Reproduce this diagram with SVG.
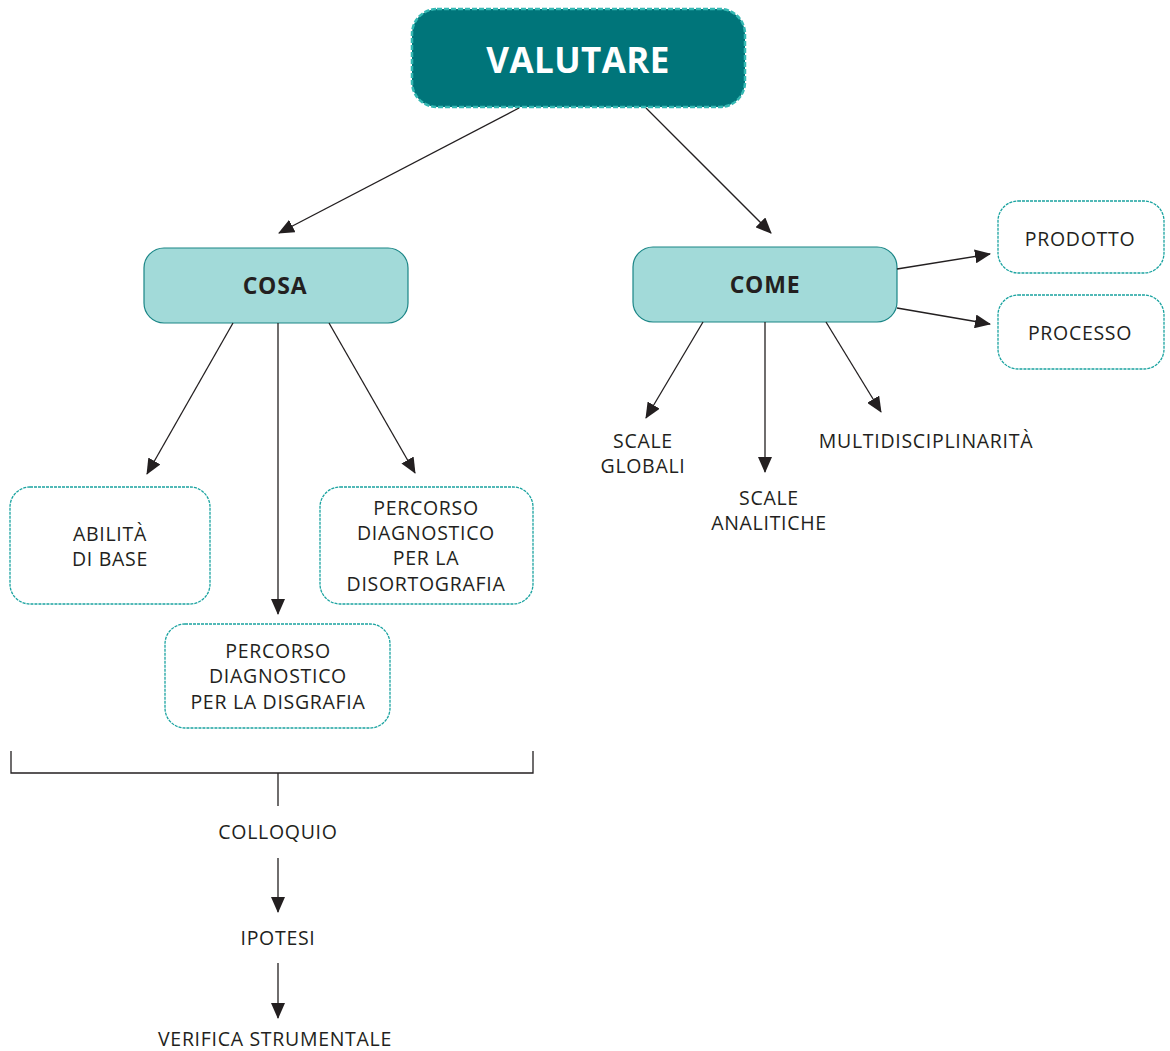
<svg xmlns="http://www.w3.org/2000/svg" width="1170" height="1051" viewBox="0 0 1170 1051">
<defs>
<marker id="ah" markerUnits="userSpaceOnUse" markerWidth="16" markerHeight="14" viewBox="0 0 16 14" refX="15" refY="7" orient="auto">
<path d="M0,0 L16,7 L0,14 Z" fill="#231f20"/>
</marker>
</defs>
<style>
text{font-family:"Open Sans","Noto Sans","Liberation Sans",sans-serif;fill:#231f20;text-anchor:middle;font-size:19.5px;letter-spacing:0.7px}
.b{font-weight:bold;font-size:23px;letter-spacing:0.8px}
.main{fill:#ffffff;font-weight:bold;font-size:35px;letter-spacing:0.4px}
.dash{fill:#ffffff;stroke:#1aa3a0;stroke-width:1.3;stroke-dasharray:3 1}
.mid{fill:#a2dad9;stroke:#1a8586;stroke-width:1.2}
.c line,.c path{stroke:#231f20;stroke-width:1.3;fill:none}
.c .a{marker-end:url(#ah)}
</style>
<g id="valutare">
<rect x="412" y="9" width="333" height="98" rx="25" fill="#00757a" stroke="#35b8b3" stroke-width="2.5" stroke-dasharray="5 2"/>
<text class="main" x="578" y="73">VALUTARE</text>
</g>
<g id="cosa">
<rect class="mid" x="144" y="248" width="264" height="75" rx="20"/>
<text class="b" x="275" y="294">COSA</text>
</g>
<g id="come">
<rect class="mid" x="633" y="247" width="264" height="75" rx="20"/>
<text class="b" x="765" y="293">COME</text>
</g>
<g id="prodotto">
<rect class="dash" x="998" y="201" width="166" height="72" rx="20"/>
<text x="1080" y="246">PRODOTTO</text>
</g>
<g id="processo">
<rect class="dash" x="998" y="295" width="166" height="74" rx="20"/>
<text x="1080" y="340">PROCESSO</text>
</g>
<g id="abilita">
<rect class="dash" x="10" y="487" width="200" height="117" rx="20"/>
<text x="110" y="541">ABILITÀ<tspan x="110" dy="25">DI BASE</tspan></text>
</g>
<g id="disortografia">
<rect class="dash" x="320" y="487" width="213" height="117" rx="20"/>
<text x="426" y="515">PERCORSO<tspan x="426" dy="25">DIAGNOSTICO</tspan><tspan x="426" dy="25">PER LA</tspan><tspan x="426" dy="26">DISORTOGRAFIA</tspan></text>
</g>
<g id="disgrafia">
<rect class="dash" x="165" y="624" width="225" height="104" rx="20"/>
<text x="278" y="658">PERCORSO<tspan x="278" dy="25">DIAGNOSTICO</tspan><tspan x="278" dy="26">PER LA DISGRAFIA</tspan></text>
</g>
<g id="scale-globali">
<text x="643" y="447.5">SCALE<tspan x="643" dy="25">GLOBALI</tspan></text>
</g>
<g id="scale-analitiche">
<text x="769" y="504.5">SCALE<tspan x="769" dy="25">ANALITICHE</tspan></text>
</g>
<g id="multidisciplinarita">
<text x="926" y="448">MULTIDISCIPLINARITÀ</text>
</g>
<g id="colloquio"><text x="278" y="839">COLLOQUIO</text></g>
<g id="ipotesi"><text x="278" y="945">IPOTESI</text></g>
<g id="verifica"><text x="275" y="1046">VERIFICA STRUMENTALE</text></g>
<g id="connectors" class="c">
<line class="a" x1="519" y1="108" x2="279" y2="233"/>
<line class="a" x1="646" y1="108" x2="771" y2="233"/>
<line class="a" x1="233" y1="323" x2="147" y2="474"/>
<line class="a" x1="278" y1="323" x2="278" y2="614"/>
<line class="a" x1="329" y1="323" x2="415" y2="473"/>
<line class="a" x1="703" y1="322" x2="646" y2="418"/>
<line class="a" x1="765" y1="322" x2="765" y2="472"/>
<line class="a" x1="826" y1="322" x2="881" y2="412"/>
<line class="a" x1="897" y1="269" x2="990" y2="254"/>
<line class="a" x1="897" y1="308" x2="990" y2="324"/>
<path d="M11,751 V773 H533 V751"/>
<line x1="278" y1="773" x2="278" y2="806"/>
<line class="a" x1="278" y1="858" x2="278" y2="912"/>
<line class="a" x1="278" y1="963" x2="278" y2="1018"/>
</g>
</svg>
